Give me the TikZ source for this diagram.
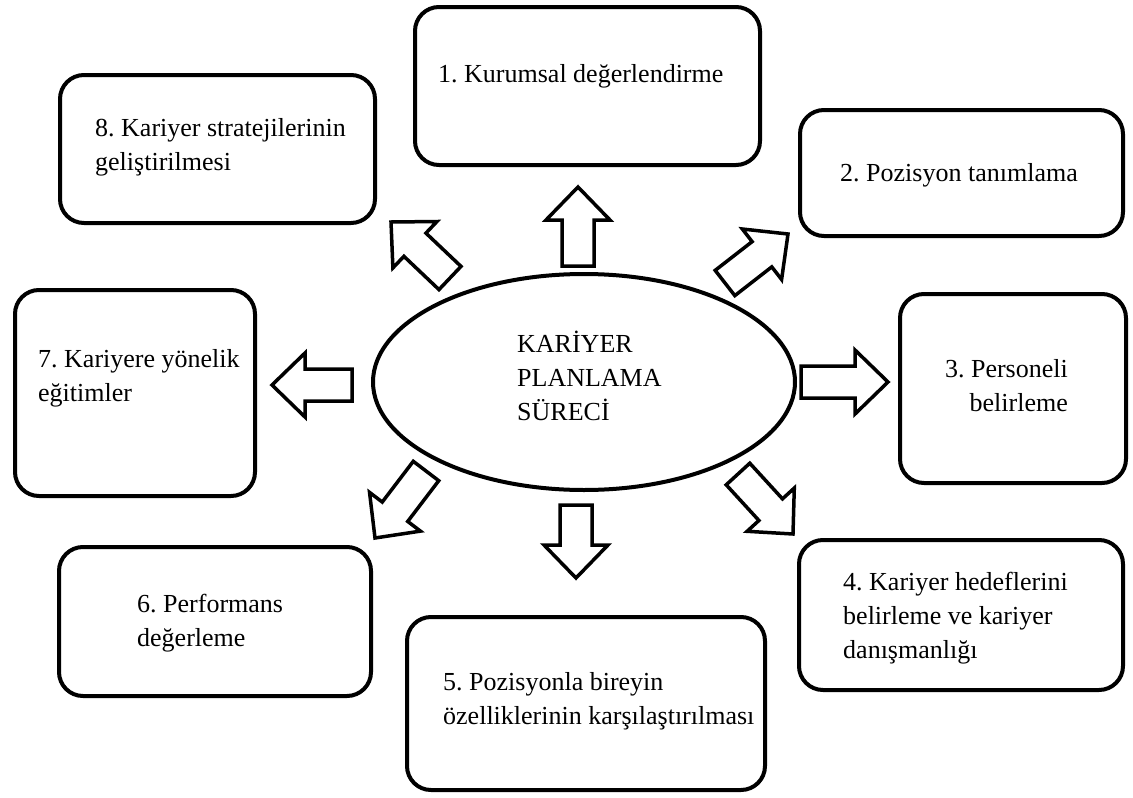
\documentclass[tikz,border=0pt]{standalone}
\usepackage{fontspec}
\setmainfont{Liberation Serif}
\newfontfamily\stepfont{Liberation Serif}
\usetikzlibrary{calc,shapes.geometric}
\frenchspacing

\tikzset{
  box/.style={draw, line width=4pt, rounded corners=24pt, inner sep=0pt, fill=white},
  txt/.style={inner sep=0pt, font=\stepfont\fontsize{26}{34}\selectfont},
  blockarrow/.style={draw, fill=white, line width=3.5pt, line join=miter},
  core/.style={ellipse, draw, fill=white, line width=4pt, inner sep=0pt}
}
% stacked lines whose baseline is that of the first line
\newcommand\stack[2][l]{\begin{tabular}[t]{@{}#1@{}}#2\end{tabular}}
% hollow block arrow from (t#1) to (p#1)
\newcommand\blockarrow[1]{%
  \coordinate (h#1) at ($(p#1)!33pt!(t#1)$);
  \draw[blockarrow]
    ($(t#1)!16pt!90:(p#1)$) -- ($(h#1)!16pt!-90:(t#1)$) -- ($(h#1)!32pt!-90:(t#1)$)
    -- (p#1) -- ($(h#1)!32pt!90:(t#1)$) -- ($(h#1)!16pt!90:(t#1)$)
    -- ($(t#1)!16pt!-90:(p#1)$) -- cycle;
}

\begin{document}
\begin{tikzpicture}[x=1pt, y=-1pt]
  \useasboundingbox (0,0) rectangle (1133,798);

  % step boxes
  \node[box, minimum width=345pt, minimum height=158pt] (b1) at (587.5,86) {};
  \node[box, minimum width=323pt, minimum height=126pt] (b2) at (961.5,173) {};
  \node[box, minimum width=226pt, minimum height=189pt] (b3) at (1013,388.5) {};
  \node[box, minimum width=324pt, minimum height=150pt] (b4) at (961,615) {};
  \node[box, minimum width=358pt, minimum height=173pt] (b5) at (586,703.5) {};
  \node[box, minimum width=312pt, minimum height=149pt] (b6) at (215,621.5) {};
  \node[box, minimum width=240pt, minimum height=206pt] (b7) at (135,393) {};
  \node[box, minimum width=315pt, minimum height=148pt] (b8) at (217.5,149) {};

  % arrow ends
  \coordinate (t1) at (578,266);  \coordinate (p1) at (578,187);
  \coordinate (t2) at (725,283);  \coordinate (p2) at (788,234);
  \coordinate (t3) at (801,382);  \coordinate (p3) at (888,382);
  \coordinate (t4) at (738,474);  \coordinate (p4) at (793,534);
  \coordinate (t5) at (576,505);  \coordinate (p5) at (576,578);
  \coordinate (t6) at (426,471);  \coordinate (p6) at (375,538);
  \coordinate (t7) at (352,385);  \coordinate (p7) at (272,385);
  \coordinate (t8) at (450,278);  \coordinate (p8) at (391,222);
  \foreach \i in {1,...,8} {\blockarrow{\i}}

  % central process
  \node[core, minimum width=422pt, minimum height=216pt] (core) at (584,382) {};
  \node[txt, anchor=base west] (title) at (517,352) {\stack{KARİYER\\PLANLAMA\\SÜRECİ}};

  % step texts
  \node[txt, anchor=base west] (l1) at (438,82) {1. Kurumsal değerlendirme};
  \node[txt, anchor=base west] (l2) at (840,181) {2. Pozisyon tanımlama};
  \node[txt, anchor=base east] (l3) at (1068,377) {\stack[r]{3. Personeli\\belirleme}};
  \node[txt, anchor=base west] (l4) at (843,590) {\stack{4. Kariyer hedeflerini\\belirleme ve kariyer\\danışmanlığı}};
  \node[txt, anchor=base west] (l5) at (443,690) {\stack{5. Pozisyonla bireyin\\özelliklerinin karşılaştırılması}};
  \node[txt, anchor=base west] (l6) at (137,612) {\stack{6. Performans\\değerleme}};
  \node[txt, anchor=base west] (l7) at (38,367) {\stack{7. Kariyere yönelik\\eğitimler}};
  \node[txt, anchor=base west] (l8) at (95,136) {\stack{8. Kariyer stratejilerinin\\geliştirilmesi}};
\end{tikzpicture}
\end{document}
